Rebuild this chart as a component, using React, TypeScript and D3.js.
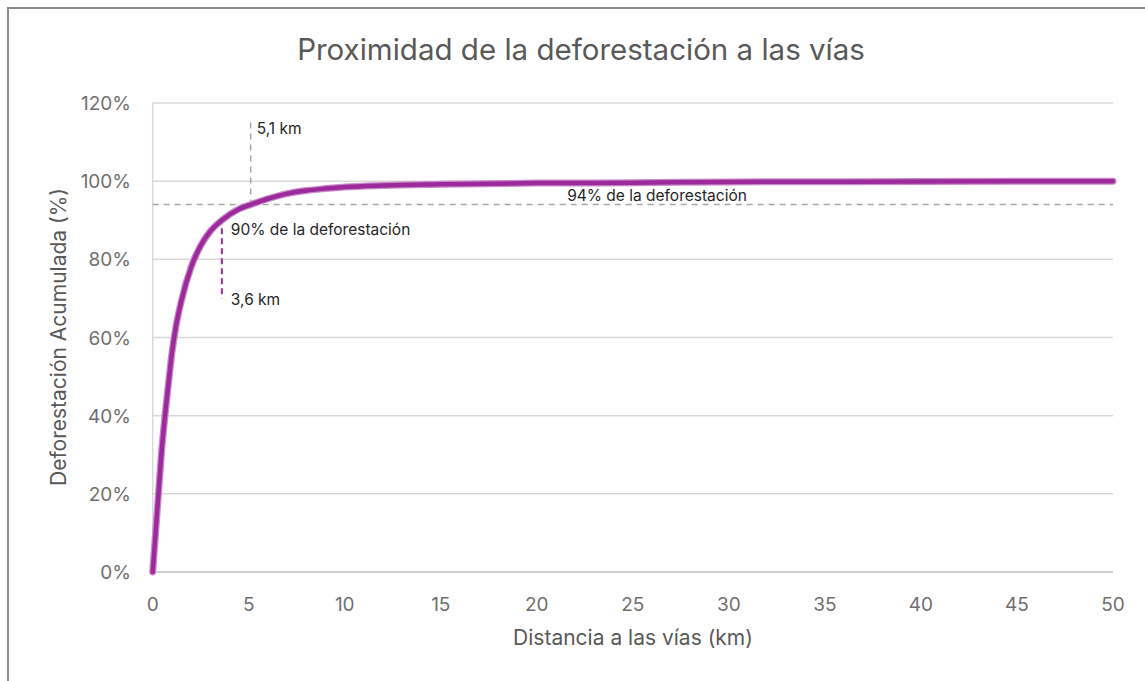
import React from "react";
import * as d3 from "d3";

// Cumulative share of deforestation by distance to the nearest road
const distanceKm = [0, 0.15, 0.3, 0.45, 0.64, 0.85, 1.0, 1.2, 1.5, 2.0, 2.5, 3.0, 3.6, 4.5, 5.1, 6, 7, 8, 9, 10, 12, 15, 20, 25, 30, 40, 50];
const cumulativePct = [0, 10, 20, 30, 40, 49.5, 56, 62.5, 69.5, 78, 83.5, 87.2, 90, 92.9, 94, 95.5, 96.8, 97.6, 98.1, 98.5, 98.9, 99.2, 99.5, 99.6, 99.8, 99.9, 100];

const xTicks = [0, 5, 10, 15, 20, 25, 30, 35, 40, 45, 50];
const yTicks = [0, 20, 40, 60, 80, 100, 120];

// Reference thresholds
const nearKm = 3.6;
const nearPct = 90;
const farKm = 5.1;
const farPct = 94;

const W = 1145;
const H = 681;
const left = 152.7;
const right = 1113;
const top = 103;
const bottom = 572;

const textGray = "#595959";
const tickGray = "#6f6f6f";
const gridGray = "#d9d9d9";
const purple = "#9d2a9c";
const font = "Inter, 'Noto Sans', sans-serif";

export default function App() {
  const x = d3.scaleLinear().domain([0, 50]).range([left, right]);
  const y = d3.scaleLinear().domain([0, 120]).range([bottom, top]);

  const line = d3
    .line<number>()
    .x((_, i) => x(distanceKm[i]))
    .y((d) => y(d))
    .curve(d3.curveMonotoneX);
  const path = line(cumulativePct) ?? "";

  return (
    <svg
      width={W}
      height={H}
      style={{ position: "absolute", left: 0, top: 0, background: "#fff" }}
    >
      <rect x={0} y={0} width={W} height={H} fill="#fff" />
      {/* chart frame */}
      <rect x={8} y={8} width={W + 10} height={H + 10} fill="none" stroke="#8c8c8c" strokeWidth={2} />

      <text x={581} y={60} textAnchor="middle" fontFamily={font} fontSize={29.5} fill={textGray}>
        Proximidad de la deforestación a las vías
      </text>

      {/* gridlines */}
      {yTicks.map((t) => (
        <line key={t} x1={left} x2={right} y1={y(t)} y2={y(t)} stroke={gridGray} strokeWidth={1.5} />
      ))}
      <line x1={left} x2={left} y1={top} y2={bottom} stroke={gridGray} strokeWidth={1.5} />
      <line x1={left} x2={right} y1={bottom} y2={bottom} stroke="#c8c8c8" strokeWidth={1.5} />

      {/* y tick labels */}
      {yTicks.map((t) => (
        <text key={t} x={131} y={y(t) + 7} textAnchor="end" fontFamily={font} fontSize={19} fill={tickGray}>
          {t}%
        </text>
      ))}
      {/* x tick labels */}
      {xTicks.map((t) => (
        <text key={t} x={x(t)} y={611} textAnchor="middle" fontFamily={font} fontSize={19} fill={tickGray}>
          {t}
        </text>
      ))}

      <text x={633} y={645} textAnchor="middle" fontFamily={font} fontSize={21} fill={textGray}>
        Distancia a las vías (km)
      </text>
      <text
        transform={`translate(66,337) rotate(-90)`}
        textAnchor="middle"
        fontFamily={font}
        fontSize={21}
        fill={textGray}
      >
        Deforestación Acumulada (%)
      </text>

      {/* 94% threshold */}
      <line x1={left} x2={right} y1={y(farPct)} y2={y(farPct)} stroke="#a6a6a6" strokeWidth={1.5} strokeDasharray="6,5" />
      <line x1={x(farKm)} x2={x(farKm)} y1={y(115)} y2={y(farPct)} stroke="#a6a6a6" strokeWidth={1.5} strokeDasharray="6,5" />

      {/* 90% threshold */}
      <line x1={x(nearKm)} x2={x(nearKm)} y1={y(nearPct) - 2} y2={y(70)} stroke={purple} strokeWidth={2} strokeDasharray="6,4" />

      {/* cumulative curve */}
      <path d={path} fill="none" stroke="#c98ac8" strokeWidth={7} strokeLinejoin="round" strokeLinecap="round" />
      <path d={path} fill="none" stroke={purple} strokeWidth={4.5} strokeLinejoin="round" strokeLinecap="round" />

      {/* annotation labels */}
      <text x={x(farKm) + 6} y={y(114) + 8} fontFamily={font} fontSize={15.5} fill="#262626">
        {String(farKm).replace(".", ",")} km
      </text>
      <text x={657} y={y(farPct) - 4} textAnchor="middle" fontFamily={font} fontSize={15.5} fill="#262626">
        {farPct}% de la deforestación
      </text>
      <text x={x(nearKm) + 9} y={y(nearPct) + 15} fontFamily={font} fontSize={15.5} fill="#262626">
        {nearPct}% de la deforestación
      </text>
      <text x={x(nearKm) + 9} y={y(70) + 7} fontFamily={font} fontSize={15.5} fill="#262626">
        {String(nearKm).replace(".", ",")} km
      </text>
    </svg>
  );
}
